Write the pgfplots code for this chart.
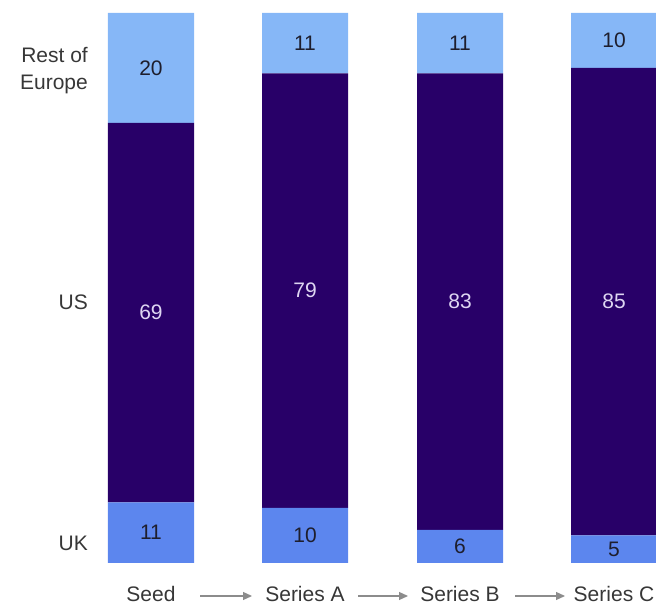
\documentclass[border=0pt]{standalone}
\usepackage{pgfplots}
\usepackage{pgfplotstable}
\pgfplotsset{compat=1.18}
\usetikzlibrary{arrows.meta}
\usepackage{fontspec}
\setmainfont{Liberation Sans}

\definecolor{ukblue}{RGB}{92,134,238}
\definecolor{usnavy}{RGB}{40,0,104}
\definecolor{eublue}{RGB}{134,183,247}
\definecolor{labelgray}{RGB}{55,55,55}
\definecolor{valdark}{RGB}{30,30,45}
\definecolor{vallight}{RGB}{222,214,242}
\definecolor{arrowgray}{RGB}{140,140,140}

% bar centres in px: 151, 305, 460, 614
\pgfplotstableread{
x   uk us eu
151 11 69 20
305 10 79 11
460  6 83 11
614  5 85 10
}\funding
% middle of each segment, for the value labels
\pgfplotstablecreatecol[expr={\thisrow{uk}/2}]{ukc}\funding
\pgfplotstablecreatecol[expr={\thisrow{uk}+\thisrow{us}/2}]{usc}\funding
\pgfplotstablecreatecol[expr={\thisrow{uk}+\thisrow{us}+\thisrow{eu}/2}]{euc}\funding

\pgfplotsset{
    frame/.style={
        at={(100pt,42pt)}, anchor=south west,
        scale only axis,
        width=556pt, height=550pt,
        xmin=100, xmax=656,
        ymin=0, ymax=100,
        axis line style={draw=none},
        major tick length=0pt,
    },
}

\begin{document}
\begin{tikzpicture}
\useasboundingbox (0,0) rectangle (656pt,605pt);
\begin{axis}[
    frame,
    ybar stacked,
    bar width=86pt,
    xtick={151,305,460,614},
    xticklabels={Seed, Series A, Series B, Series C},
    xticklabel style={anchor=base, yshift=-38pt, font=\fontsize{21}{25}\selectfont, text=labelgray},
    ytick={3.64,47.45,89.5},
    yticklabels={UK, US, {Rest of\\Europe}},
    yticklabel style={align=right, inner sep=0pt, xshift=-12pt,
        font=\fontsize{21}{27}\selectfont, text=labelgray},
]
\addplot[fill=ukblue, draw=none] table[x=x, y=uk] {\funding};
\addplot[fill=usnavy, draw=none] table[x=x, y=us] {\funding};
\addplot[fill=eublue, draw=none] table[x=x, y=eu] {\funding};
\end{axis}
\begin{axis}[
    frame,
    xtick=\empty, ytick=\empty,
    /pgf/number format/assume math mode=true,
    nodes near coords,
    point meta=explicit,
    every node near coord/.append style={anchor=center, inner sep=0pt,
        font=\fontsize{21}{25}\selectfont},
]
\addplot[draw=none, mark=none, nodes near coords style={text=valdark}]
    table[x=x, y=ukc, meta=uk] {\funding};
\addplot[draw=none, mark=none, nodes near coords style={text=vallight}]
    table[x=x, y=usc, meta=us] {\funding};
\addplot[draw=none, mark=none, nodes near coords style={text=valdark}]
    table[x=x, y=euc, meta=eu] {\funding};
\end{axis}
% arrows between the stage labels
\begin{scope}[arrowgray, line width=1.2pt, -{Triangle[length=9pt,width=8pt]}]
\draw (200pt,9pt) -- (252pt,9pt);
\draw (358pt,9pt) -- (408pt,9pt);
\draw (515pt,9pt) -- (565pt,9pt);
\end{scope}
\end{tikzpicture}
\end{document}
